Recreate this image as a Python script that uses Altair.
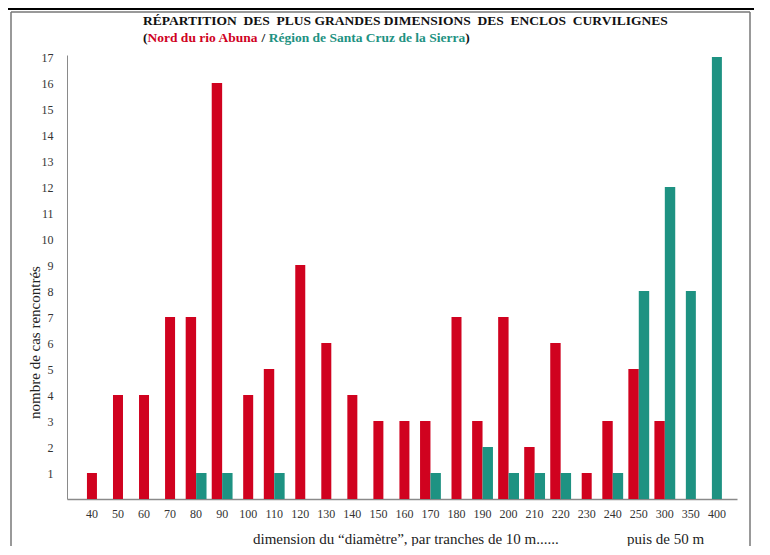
import altair as alt
import pandas as pd

# ---- data ----
categories = ["40", "50", "60", "70", "80", "90", "100", "110", "120", "130",
              "140", "150", "160", "170", "180", "190", "200", "210", "220",
              "230", "240", "250", "300", "350", "400"]
abuna = [1, 4, 4, 7, 7, 16, 4, 5, 9, 6, 4, 3, 3, 3, 7, 3, 7, 2, 6, 1, 3, 5, 3, 0, 0]
santa_cruz = [0, 0, 0, 0, 1, 1, 0, 1, 0, 0, 0, 0, 0, 1, 0, 2, 1, 1, 1, 0, 1, 8, 12, 8, 17]
y_ticks = list(range(1, 18))

series_names = ["Nord du rio Abuna", "Région de Santa Cruz de la Sierra"]
series_colors = ["#D0021F", "#1E9282"]

title_text = "RÉPARTITION\u00a0 DES\u00a0 PLUS GRANDES DIMENSIONS\u00a0 DES\u00a0 ENCLOS\u00a0 CURVILIGNES"
sub_open = "("
sub_red = "Nord du rio Abuna"
sub_sep = "/"
sub_teal = "Région de Santa Cruz de la Sierra"
sub_close = ")"
x_title_main = "dimension du \u201cdiamètre\u201d, par tranches de 10 m......"
x_title_tail = "puis de 50 m"
y_title = "nombre de cas rencontrés"

FONT = "Liberation Serif"

# ---- build tables ----
pair_rows, solo_rows = [], []
for c, a, s in zip(categories, abuna, santa_cruz):
    paired = a > 0 and s > 0
    for name, v in zip(series_names, (a, s)):
        if v > 0:
            (pair_rows if paired else solo_rows).append({"dim": c, "serie": name, "n": v})
pair_df = pd.DataFrame(pair_rows)
solo_df = pd.DataFrame(solo_rows)

x_scale = alt.Scale(domain=categories, paddingInner=0.2, paddingOuter=0.465, align=0.6)
x_axis = alt.Axis(title=None, labelAngle=0, labelFont=FONT, labelFontSize=12,
                  labelColor="#333333", ticks=False, domainColor="#8a8a8a",
                  domainWidth=1.5, labelPadding=9, grid=False)
y_scale = alt.Scale(domain=[0, 17.08], nice=False)
y_axis = alt.Axis(title=y_title, values=y_ticks, ticks=False, grid=False,
                  labelFont=FONT, labelFontSize=12, labelColor="#333333",
                  labelPadding=14, domainColor="#8a8a8a", domainWidth=1,
                  titleFont=FONT, titleFontSize=15, titleFontWeight="normal",
                  titleColor="#222222", titleAngle=270, titleX=-33, titleY=287,
                  titleAlign="center", titleBaseline="middle")
color = alt.Color("serie:N", scale=alt.Scale(domain=series_names, range=series_colors), legend=None)

pair_bars = alt.Chart(pair_df).mark_bar().encode(
    x=alt.X("dim:N", scale=x_scale, sort=categories, axis=x_axis),
    xOffset=alt.XOffset("serie:N", scale=alt.Scale(domain=series_names, paddingInner=0, paddingOuter=0)),
    y=alt.Y("n:Q", scale=y_scale, axis=y_axis),
    color=color,
)
solo_bars = alt.Chart(solo_df).mark_bar(width=10).encode(
    x=alt.X("dim:N", scale=x_scale, sort=categories, axis=x_axis),
    y=alt.Y("n:Q", scale=y_scale, axis=y_axis),
    color=color,
)


def text_layer(txt, x, y, size, color="#111111", weight="normal", align="left"):
    return alt.Chart(pd.DataFrame({"t": [txt]})).mark_text(
        font=FONT, fontSize=size, fontWeight=weight, align=align, baseline="alphabetic",
        color=color,
    ).encode(text="t:N", x=alt.value(x), y=alt.value(y))


def rule_h(x1, x2, y, color, w):
    return alt.Chart(pd.DataFrame({"a": [0]})).mark_rule(color=color, strokeWidth=w).encode(
        x=alt.value(x1), x2=alt.value(x2), y=alt.value(y))


def rule_v(x, y1, y2, color, w):
    return alt.Chart(pd.DataFrame({"a": [0]})).mark_rule(color=color, strokeWidth=w).encode(
        x=alt.value(x), y=alt.value(y1), y2=alt.value(y2))


TX, SUB_Y, TS = 76, -13, 13.5
subtitle = [
    text_layer(sub_open, TX, SUB_Y, TS, "#111111", "bold"),
    text_layer(sub_red, TX + 4.5, SUB_Y, TS, series_colors[0], "bold"),
    text_layer(sub_sep, TX + 4.5 + 110.7 + 3.4, SUB_Y, TS, "#111111", "bold"),
    text_layer(sub_teal, TX + 4.5 + 110.7 + 10.5, SUB_Y, TS, series_colors[1], "bold"),
    text_layer(sub_close, TX + 4.5 + 110.7 + 10.5 + 196.5, SUB_Y, TS, "#111111", "bold"),
]

frame = [
    rule_h(-59, 687, -46, "#000000", 2),
    rule_h(-56, 683, -43, "#777777", 1.5),
    rule_v(-56, -43, 492, "#777777", 1.5),
    rule_v(683, -43, 492, "#777777", 1.5),
]

chart = alt.layer(
    *frame,
    pair_bars,
    solo_bars,
    text_layer(title_text, TX, -30, TS, "#111111", "bold"),
    *subtitle,
    text_layer(x_title_main, 186, 489, 15, "#222222"),
    text_layer(x_title_tail, 560, 489, 15, "#222222"),
).properties(
    width=670,
    height=444,
    autosize=alt.AutoSizeParams(type="none"),
    padding={"left": 59, "top": 47, "right": 17, "bottom": 47},
    background="white",
).configure_view(stroke=None)

chart.save("out.html", embed_options={"renderer": "svg", "actions": False})
